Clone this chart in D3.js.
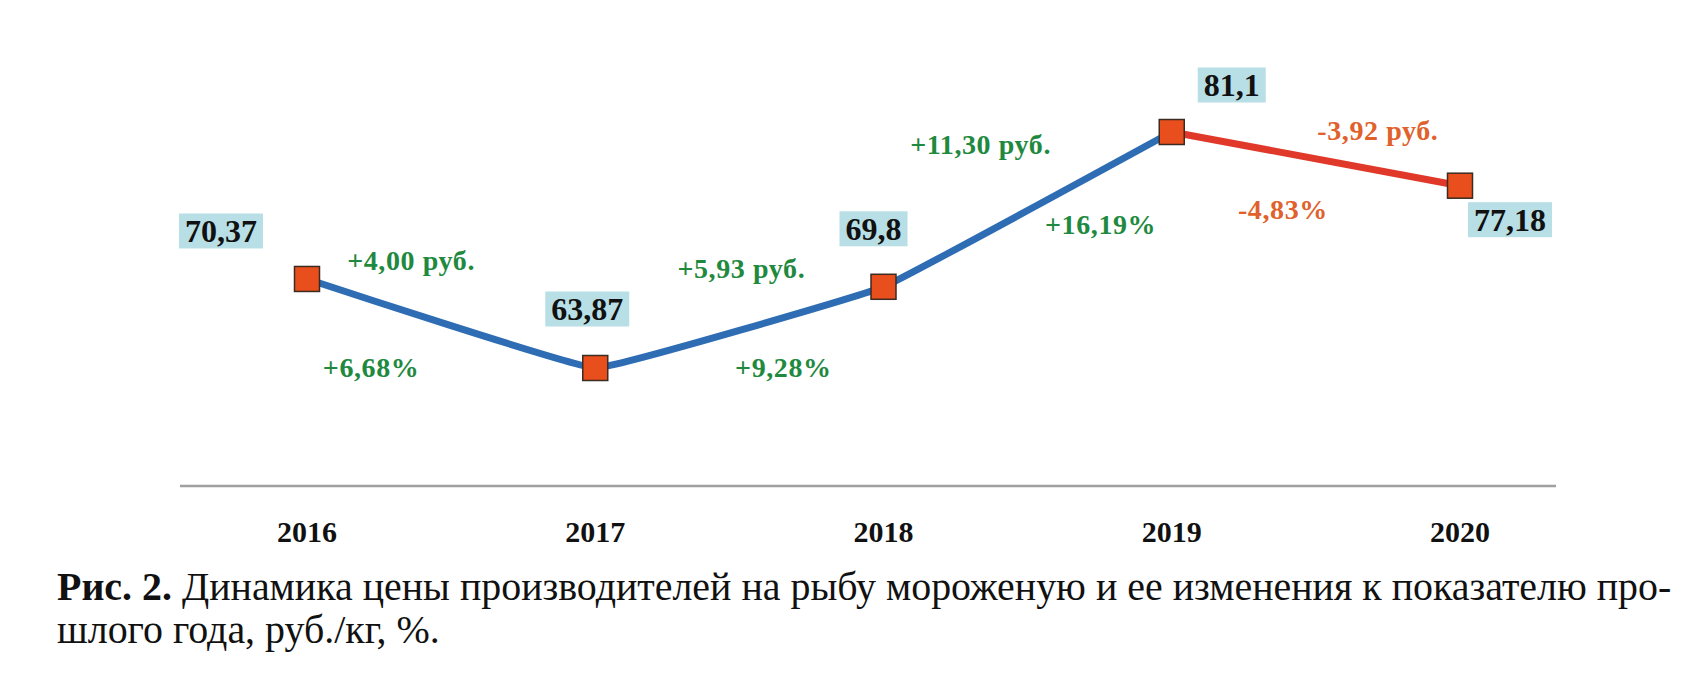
<!DOCTYPE html>
<html>
<head>
<meta charset="utf-8">
<script src="https://cdn.jsdelivr.net/npm/d3@7"></script>
<style>
  html, body { margin: 0; padding: 0; background: #fff; }
  svg { display: block; }
</style>
</head>
<body>
<svg id="chart" width="1703" height="680"></svg>
<script>
// data
var years = ['2016', '2017', '2018', '2019', '2020'];
var prices = [70.37, 63.87, 69.8, 81.1, 77.18];
var changeRub = [4.00, 5.93, 11.30, -3.92];
var changePct = [6.68, 9.28, 16.19, -4.83];
var captionBold = 'Рис. 2.';
var captionLine1 = ' Динамика цены производителей на рыбу мороженую и ее изменения к показателю про-';
var captionLine2 = 'шлого года, руб./кг, %.';

// label placement relative to points / segment midpoints
var boxOffset = [[-86, -48], [-8, -59], [-10, -58], [60, -47], [50, 34]];
var rubOffset = [[-40, -53], [2, -49], [-47, -55], [62, -19]];
var pctOffset = [[-80, 54], [44, 50], [73, 25], [-33, 60]];

var FONT = '"Liberation Serif", "Times New Roman", serif';
var GREEN = '#1f8a3f', ORANGE = '#e0612c';

var svg = d3.select('#chart');

var x = d3.scalePoint().domain(years).range([307, 1460]);
var y = d3.scaleLinear().domain([55, 90]).range([489.5, 10.1]);

var fmt2 = d3.formatLocale({decimal: ',', thousands: ' ', grouping: [3], currency: ['', ''], minus: '-'}).format('.2f');
function plain(v){ return String(v).replace('.', ','); }
function signed(v){ return (v > 0 ? '+' : '') + fmt2(v); }

// baseline
svg.append('line')
  .attr('x1', 180).attr('x2', 1556)
  .attr('y1', 486).attr('y2', 486)
  .attr('stroke', '#a0a0a0').attr('stroke-width', 2.5);

// year labels
svg.append('g').selectAll('text').data(years).enter().append('text')
  .attr('x', function(d){ return x(d); })
  .attr('y', 542)
  .attr('text-anchor', 'middle')
  .attr('font-family', FONT).attr('font-weight', 'bold').attr('font-size', '30px')
  .attr('fill', '#111')
  .text(function(d){ return d; });

var pts = years.map(function(d, i){ return [x(d), y(prices[i])]; });

var line = d3.line().curve(d3.curveCardinal.tension(0.8));
svg.append('path').attr('d', line(pts.slice(0, 4)))
  .attr('fill', 'none').attr('stroke', '#2e6db4').attr('stroke-width', 7).attr('stroke-linejoin', 'round');
svg.append('path').attr('d', line(pts.slice(3)))
  .attr('fill', 'none').attr('stroke', '#e0392a').attr('stroke-width', 7);

// markers
var sq = 25;
svg.append('g').selectAll('rect').data(pts).enter().append('rect')
  .attr('x', function(d){ return d[0] - sq / 2; })
  .attr('y', function(d){ return d[1] - sq / 2; })
  .attr('width', sq).attr('height', sq)
  .attr('fill', '#e84f1c').attr('stroke', '#3b2b20').attr('stroke-width', 1.5);

// value labels in boxes
var lab = svg.append('g');
pts.forEach(function(p, i){
  var cx = p[0] + boxOffset[i][0], cy = p[1] + boxOffset[i][1];
  var g = lab.append('g');
  var r = g.append('rect').attr('fill', '#b8dfe6');
  var t = g.append('text')
    .attr('x', cx).attr('y', cy + 11)
    .attr('text-anchor', 'middle')
    .attr('font-family', FONT).attr('font-weight', 'bold').attr('font-size', '32px')
    .attr('fill', '#111')
    .text(plain(prices[i]));
  var w = t.node().getComputedTextLength() + 12;
  r.attr('x', cx - w / 2).attr('y', cy - 17.5).attr('width', w).attr('height', 35);
});

// change annotations
var ann = svg.append('g');
for (var i = 0; i < changeRub.length; i++){
  var mx = (pts[i][0] + pts[i + 1][0]) / 2, my = (pts[i][1] + pts[i + 1][1]) / 2;
  ann.append('text')
    .attr('x', mx + rubOffset[i][0]).attr('y', my + rubOffset[i][1])
    .attr('text-anchor', 'middle')
    .attr('font-family', FONT).attr('font-weight', 'bold').attr('font-size', '28px')
    .attr('letter-spacing', '0.6px')
    .attr('fill', changeRub[i] < 0 ? ORANGE : GREEN)
    .text(signed(changeRub[i]) + ' руб.');
  ann.append('text')
    .attr('x', mx + pctOffset[i][0]).attr('y', my + pctOffset[i][1])
    .attr('text-anchor', 'middle')
    .attr('font-family', FONT).attr('font-weight', 'bold').attr('font-size', '28px')
    .attr('letter-spacing', '0.6px')
    .attr('fill', changePct[i] < 0 ? ORANGE : GREEN)
    .text(signed(changePct[i]) + '%');
}

// caption, sized to fill the line width
var cap1 = svg.append('text')
  .attr('x', 57).attr('y', 600)
  .attr('font-family', FONT).attr('font-size', '34px').attr('fill', '#111');
cap1.append('tspan').attr('font-weight', 'bold').text(captionBold);
cap1.append('tspan').text(captionLine1);
var fs = 34 * 1615 / cap1.node().getComputedTextLength();
cap1.attr('font-size', fs + 'px');
svg.append('text')
  .attr('x', 57).attr('y', 643)
  .attr('font-family', FONT).attr('font-size', fs + 'px').attr('fill', '#111')
  .text(captionLine2);
</script>
</body>
</html>
